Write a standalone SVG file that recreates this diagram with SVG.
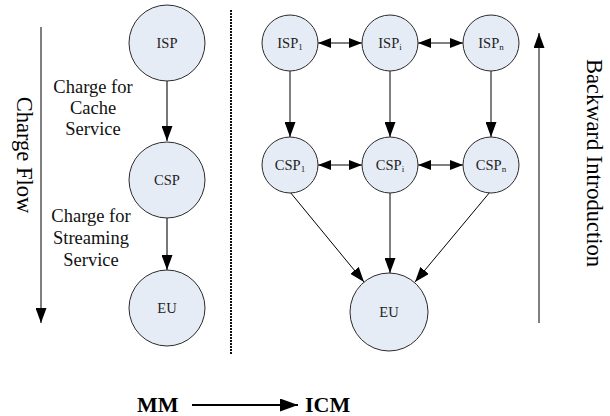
<svg xmlns="http://www.w3.org/2000/svg" width="610" height="416" viewBox="0 0 610 416">
<defs>
<marker id="ah" viewBox="0 0 10 10" refX="10" refY="5" markerWidth="15" markerHeight="11" markerUnits="userSpaceOnUse" orient="auto-start-reverse" preserveAspectRatio="none">
<path d="M0,0 L10,5 L0,10 Z" fill="#000"/>
</marker>
<marker id="ahs" viewBox="0 0 10 10" refX="10" refY="5" markerWidth="13" markerHeight="10" markerUnits="userSpaceOnUse" orient="auto-start-reverse" preserveAspectRatio="none">
<path d="M0,0 L10,5 L0,10 Z" fill="#000"/>
</marker>
<marker id="ahm" viewBox="0 0 10 10" refX="10" refY="5" markerWidth="18" markerHeight="13" markerUnits="userSpaceOnUse" orient="auto" preserveAspectRatio="none">
<path d="M0,0 L10,5 L0,10 Z" fill="#000"/>
</marker>
<style>
.n{fill:#e6ecf6;stroke:#2a2a2a;stroke-width:1}
.lb{font-family:"Liberation Serif","Times New Roman",serif;font-size:14.5px;fill:#222;text-anchor:middle}
.sub{font-size:9px}
.t{font-family:"Liberation Serif","Times New Roman",serif;font-size:18.5px;fill:#111;text-anchor:middle}
.big{font-family:"Liberation Serif","Times New Roman",serif;font-size:22.5px;fill:#000;text-anchor:middle}
.bold{font-family:"Liberation Serif","Times New Roman",serif;font-size:22px;font-weight:bold;fill:#000}
.c{stroke:#000;stroke-width:1;fill:none}
.cg{stroke:#555;stroke-width:1.6;fill:none}
</style>
</defs>
<g id="connectors">
<line class="cg" x1="167" y1="81" x2="167" y2="141" marker-end="url(#ah)"/>
<line class="cg" x1="167" y1="218" x2="167" y2="270" marker-end="url(#ah)"/>
<line class="c" x1="290" y1="71" x2="290" y2="137" marker-end="url(#ah)"/>
<line class="c" x1="390" y1="71" x2="390" y2="137" marker-end="url(#ah)"/>
<line class="c" x1="491" y1="71" x2="491" y2="137" marker-end="url(#ah)"/>
<line class="c" x1="318" y1="43" x2="362" y2="43" marker-start="url(#ahs)" marker-end="url(#ahs)"/>
<line class="c" x1="418" y1="43" x2="463" y2="43" marker-start="url(#ahs)" marker-end="url(#ahs)"/>
<line class="c" x1="318" y1="165" x2="362" y2="165" marker-start="url(#ahs)" marker-end="url(#ahs)"/>
<line class="c" x1="418" y1="165" x2="463" y2="165" marker-start="url(#ahs)" marker-end="url(#ahs)"/>
<line class="c" x1="290" y1="192" x2="364" y2="282" marker-end="url(#ah)"/>
<line class="c" x1="390" y1="193" x2="390" y2="273" marker-end="url(#ah)"/>
<line class="c" x1="490" y1="192" x2="415" y2="282" marker-end="url(#ah)"/>
<line class="c" x1="41" y1="27" x2="41" y2="323" marker-end="url(#ah)"/>
<line class="c" x1="539" y1="323" x2="539" y2="33" marker-end="url(#ah)"/>
<line x1="231" y1="10" x2="231" y2="355" stroke="#111" stroke-width="2" stroke-dasharray="2,1"/>
<line stroke="#000" stroke-width="2" x1="192" y1="405" x2="298" y2="405" marker-end="url(#ahm)"/>
</g>
<g id="ISP"><circle class="n" cx="167" cy="43" r="38"/><text class="lb" x="167" y="48">ISP</text></g>
<g id="CSP"><circle class="n" cx="167" cy="180" r="38"/><text class="lb" x="167" y="185">CSP</text></g>
<g id="EU"><circle class="n" cx="167" cy="308" r="38"/><text class="lb" x="167" y="313">EU</text></g>
<g id="ISP1"><circle class="n" cx="290" cy="43" r="28"/><text class="lb" x="290" y="48">ISP<tspan class="sub" dy="1.5">1</tspan></text></g>
<g id="ISPi"><circle class="n" cx="390" cy="43" r="28"/><text class="lb" x="390" y="48">ISP<tspan class="sub" dy="1.5">i</tspan></text></g>
<g id="ISPn"><circle class="n" cx="491" cy="43" r="28"/><text class="lb" x="491" y="48">ISP<tspan class="sub" dy="1.5">n</tspan></text></g>
<g id="CSP1"><circle class="n" cx="290" cy="165" r="28"/><text class="lb" x="290" y="170">CSP<tspan class="sub" dy="1.5">1</tspan></text></g>
<g id="CSPi"><circle class="n" cx="390" cy="165" r="28"/><text class="lb" x="390" y="170">CSP<tspan class="sub" dy="1.5">i</tspan></text></g>
<g id="CSPn"><circle class="n" cx="491" cy="165" r="28"/><text class="lb" x="491" y="170">CSP<tspan class="sub" dy="1.5">n</tspan></text></g>
<g id="EU2"><circle class="n" cx="389" cy="312" r="39"/><text class="lb" x="389" y="317">EU</text></g>
<g id="labels">
<text class="t" x="93" y="93">Charge for</text>
<text class="t" x="93" y="114">Cache</text>
<text class="t" x="93" y="135">Service</text>
<text class="t" x="91" y="222">Charge for</text>
<text class="t" x="91" y="244">Streaming</text>
<text class="t" x="91" y="266">Service</text>
<text class="big" transform="translate(17,155) rotate(90)">Charge Flow</text>
<text class="big" font-size="22" transform="translate(587,163) rotate(90)">Backward Introduction</text>
<text class="bold" x="137" y="412">MM</text>
<text class="bold" x="305" y="412">ICM</text>
</g>
</svg>
